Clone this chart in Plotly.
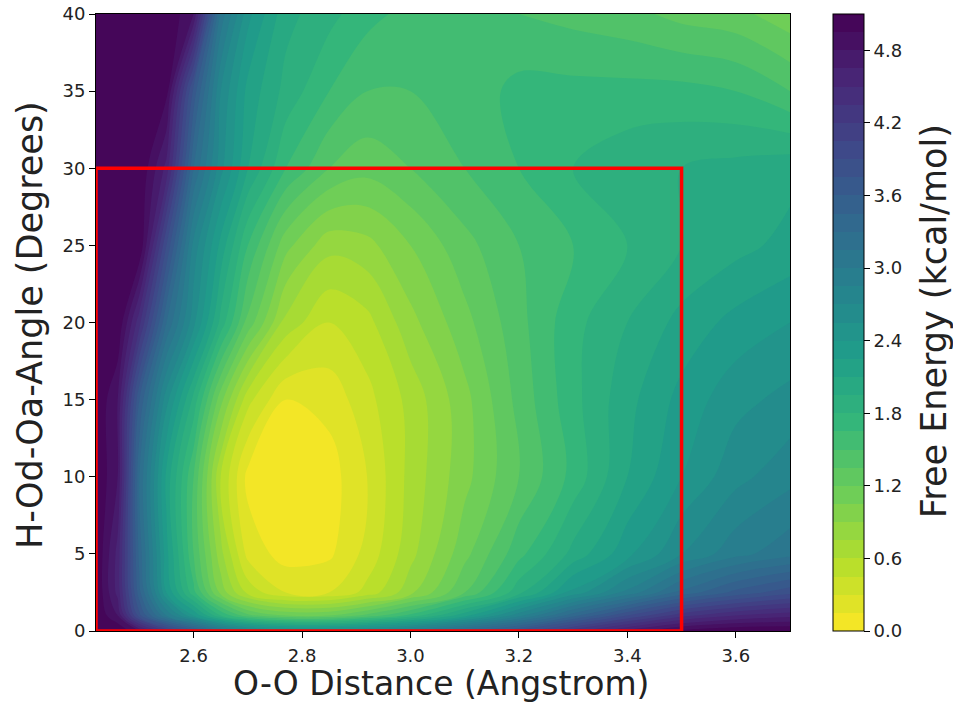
import plotly.graph_objects as go

# O-O distance grid (Angstrom)
x_dist = [2.42, 2.46, 2.50, 2.55, 2.60, 2.65, 2.70, 2.77, 2.85, 2.92,
          3.00, 3.10, 3.20, 3.30, 3.40, 3.50, 3.60, 3.70]
# H-Od-Oa angle grid (degrees)
y_angle = [0, 1, 2.5, 5, 10, 15, 20, 25, 30, 35, 40]

# Free energy (kcal/mol), one row per angle
fe_a0 = [5.1, 5.1, 4.8, 4.2, 3.7, 3.2, 2.9, 2.7, 2.7, 2.8, 3.0, 3.4, 3.8, 4.3, 4.7, 5.0, 5.1, 5.1]
fe_a1 = [5.1, 4.8, 3.8, 3.0, 2.4, 1.8, 1.4, 1.2, 1.2, 1.4, 1.7, 2.2, 2.8, 3.4, 3.9, 4.3, 4.5, 4.6]
fe_a2 = [5.1, 4.6, 3.5, 2.4, 1.7, 1.0, 0.55, 0.3, 0.3, 0.5, 0.85, 1.35, 1.9, 2.45, 2.9, 3.35, 3.65, 3.85]
fe_a5 = [5.1, 4.6, 3.4, 2.3, 1.5, 0.8, 0.25, 0.08, 0.12, 0.35, 0.7, 1.15, 1.6, 2.0, 2.35, 2.7, 2.95, 3.1]
fe_a10 = [5.1, 4.8, 3.3, 2.2, 1.5, 0.6, 0.1, 0.0, 0.08, 0.3, 0.65, 1.0, 1.35, 1.7, 2.1, 2.4, 2.65, 2.8]
fe_a15 = [5.1, 4.8, 3.6, 2.6, 1.9, 1.1, 0.5, 0.15, 0.2, 0.4, 0.65, 1.0, 1.4, 1.75, 2.05, 2.3, 2.5, 2.6]
fe_a20 = [5.1, 5.1, 4.4, 3.3, 2.6, 1.9, 1.3, 0.7, 0.45, 0.55, 0.85, 1.15, 1.45, 1.75, 1.95, 2.15, 2.3, 2.4]
fe_a25 = [5.1, 5.1, 5.1, 3.9, 2.8, 2.2, 1.65, 1.1, 0.8, 0.85, 1.05, 1.3, 1.5, 1.65, 1.8, 1.95, 2.05, 2.15]
fe_a30 = [5.1, 5.1, 5.1, 4.6, 3.3, 2.6, 2.1, 1.65, 1.35, 1.25, 1.35, 1.5, 1.65, 1.8, 1.9, 1.95, 2.0, 2.05]
fe_a35 = [5.1, 5.1, 5.1, 5.0, 3.7, 2.7, 2.2, 1.9, 1.65, 1.5, 1.5, 1.55, 1.7, 1.7, 1.7, 1.7, 1.65, 1.5]
fe_a40 = [5.1, 5.1, 5.1, 5.1, 4.8, 3.1, 2.45, 2.0, 1.85, 1.7, 1.6, 1.5, 1.5, 1.45, 1.4, 1.3, 1.25, 1.1]

free_energy = [fe_a0, fe_a1, fe_a2, fe_a5, fe_a10, fe_a15, fe_a20,
               fe_a25, fe_a30, fe_a35, fe_a40]

cbar_ticks = [0.0, 0.6, 1.2, 1.8, 2.4, 3.0, 3.6, 4.2, 4.8]
x_ticks = [2.6, 2.8, 3.0, 3.2, 3.4, 3.6]
y_ticks = [0, 5, 10, 15, 20, 25, 30, 35, 40]

# highlighted region
box_x = [2.42, 3.50]
box_y = [0, 30]

FONT = "DejaVu Sans"
TXT = "#222"

fig = go.Figure(go.Contour(
    x=x_dist, y=y_angle, z=free_energy,
    colorscale="Viridis", reversescale=True,
    zmin=0, zmax=5.1,
    autocontour=False,
    contours=dict(start=0, end=5.1, size=0.15, coloring="fill", showlines=False),
    line=dict(width=0),
    colorbar=dict(
        x=1.062, xanchor="left", xref="paper", xpad=0, ypad=0,
        y=0.5, yanchor="middle", len=1.0, lenmode="fraction",
        thickness=31, outlinewidth=1, outlinecolor="black",
        tickvals=cbar_ticks, ticktext=[f"{v:.1f}" for v in cbar_ticks],
        ticks="outside", ticklen=6, tickcolor="black",
        tickfont=dict(family=FONT, size=18, color=TXT),
    ),
    hoverinfo="skip",
))

fig.add_shape(type="rect", xref="x", yref="y",
              x0=box_x[0], x1=box_x[1], y0=box_y[0], y1=box_y[1],
              line=dict(color="red", width=3.5))

axis_common = dict(
    ticks="outside", ticklen=6, tickcolor="black",
    showline=True, linecolor="black", linewidth=1, mirror=True,
    showgrid=False, zeroline=False, automargin=False,
    tickfont=dict(family=FONT, size=18, color=TXT),
)

fig.update_layout(
    width=953, height=704,
    margin=dict(l=96, r=163, t=14, b=73),
    paper_bgcolor="white", plot_bgcolor="white",
    font=dict(family=FONT, color=TXT),
    showlegend=False,
    xaxis=dict(range=[2.42, 3.70], tickvals=x_ticks,
               ticktext=[f"{v:.1f}" for v in x_ticks],
               ticklabelstandoff=2, **axis_common),
    yaxis=dict(range=[0, 40], tickvals=y_ticks, **axis_common),
    annotations=[
        dict(text="O-O Distance (Angstrom)", xref="paper", yref="paper",
             x=0.497, y=-73 / 617, xanchor="center", yanchor="bottom",
             borderpad=0,
             showarrow=False, font=dict(family=FONT, size=33, color=TXT)),
        dict(text="H-Od-Oa-Angle (Degrees)", xref="paper", yref="paper",
             x=-0.095, y=0.496, xanchor="center", yanchor="middle", textangle=-90,
             showarrow=False, font=dict(family=FONT, size=35, color=TXT)),
        dict(text="Free Energy (kcal/mol)", xref="paper", yref="paper",
             x=1.2075, y=0.502, xanchor="center", yanchor="middle", textangle=-90,
             showarrow=False, font=dict(family=FONT, size=35, color=TXT)),
    ],
)

fig.write_html("out.html", config={"displayModeBar": False},
               post_script="document.body.style.margin='0';document.body.style.padding='0';")
